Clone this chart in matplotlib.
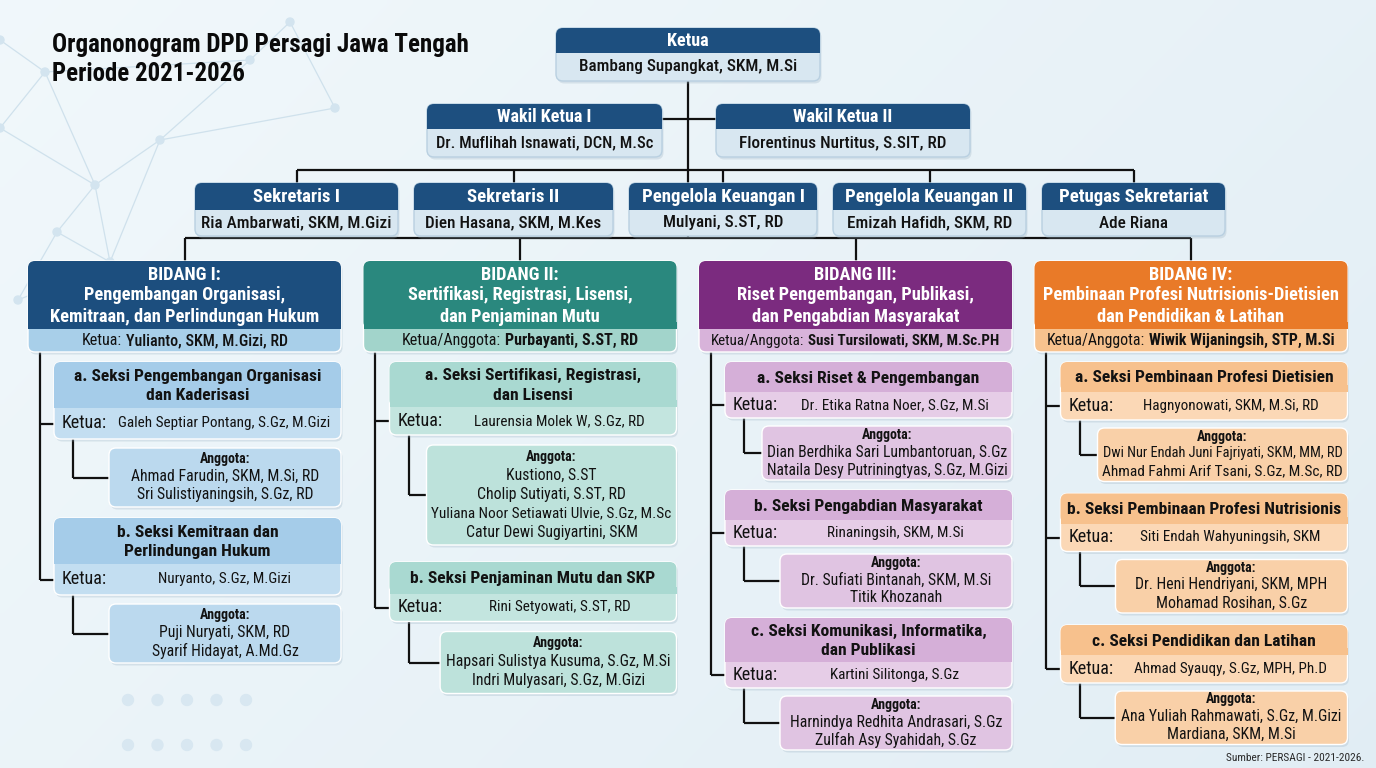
import matplotlib
matplotlib.use("Agg")
import matplotlib.pyplot as plt
from matplotlib.patches import FancyBboxPatch, Rectangle, Circle
from matplotlib import font_manager as fm
import numpy as np

# ======================= DATA =======================
title_lines = ["Organonogram DPD Persagi Jawa Tengah", "Periode 2021-2026"]
source_note = "Sumber: PERSAGI - 2021-2026."

ketua_role = "Ketua"
ketua_name = "Bambang Supangkat, SKM, M.Si"

wakil_roles = ["Wakil Ketua I", "Wakil Ketua II"]
wakil_names = ["Dr. Muflihah Isnawati, DCN, M.Sc", "Florentinus Nurtitus, S.SIT, RD"]

staff_roles = ["Sekretaris I", "Sekretaris II", "Pengelola Keuangan I",
               "Pengelola Keuangan II", "Petugas Sekretariat"]
staff_names = ["Ria Ambarwati, SKM, M.Gizi", "Dien Hasana, SKM, M.Kes", "Mulyani, S.ST, RD",
               "Emizah Hafidh, SKM, RD", "Ade Riana"]

bidang_codes = ["BIDANG I:", "BIDANG II:", "BIDANG III:", "BIDANG IV:"]
bidang_titles = [["Pengembangan Organisasi,", "Kemitraan, dan Perlindungan Hukum"],
                 ["Sertifikasi, Registrasi, Lisensi,", "dan Penjaminan Mutu"],
                 ["Riset Pengembangan, Publikasi,", "dan Pengabdian Masyarakat"],
                 ["Pembinaan Profesi Nutrisionis-Dietisien", "dan Pendidikan & Latihan"]]
bidang_head_labels = ["Ketua:", "Ketua/Anggota:", "Ketua/Anggota:", "Ketua/Anggota:"]
bidang_heads = ["Yulianto, SKM, M.Gizi, RD", "Purbayanti, S.ST, RD",
                "Susi Tursilowati, SKM, M.Sc.PH", "Wiwik Wijaningsih, STP, M.Si"]

# Bidang I
b1_seksi = [["a. Seksi Pengembangan Organisasi", "dan Kaderisasi"],
            ["b. Seksi Kemitraan dan", "Perlindungan Hukum"]]
b1_ketua = ["Galeh Septiar Pontang, S.Gz, M.Gizi", "Nuryanto, S.Gz, M.Gizi"]
b1_anggota = [["Ahmad Farudin, SKM, M.Si, RD", "Sri Sulistiyaningsih, S.Gz, RD"],
              ["Puji Nuryati, SKM, RD", "Syarif Hidayat, A.Md.Gz"]]
# Bidang II
b2_seksi = [["a. Seksi Sertifikasi, Registrasi,", "dan Lisensi"],
            ["b. Seksi Penjaminan Mutu dan SKP"]]
b2_ketua = ["Laurensia Molek W, S.Gz, RD", "Rini Setyowati, S.ST, RD"]
b2_anggota = [["Kustiono, S.ST", "Cholip Sutiyati, S.ST, RD",
               "Yuliana Noor Setiawati Ulvie, S.Gz, M.Sc", "Catur Dewi Sugiyartini, SKM"],
              ["Hapsari Sulistya Kusuma, S.Gz, M.Si", "Indri Mulyasari, S.Gz, M.Gizi"]]
# Bidang III
b3_seksi = [["a. Seksi Riset & Pengembangan"],
            ["b. Seksi Pengabdian Masyarakat"],
            ["c. Seksi Komunikasi, Informatika,", "dan Publikasi"]]
b3_ketua = ["Dr. Etika Ratna Noer, S.Gz, M.Si", "Rinaningsih, SKM, M.Si", "Kartini Silitonga, S.Gz"]
b3_anggota = [["Dian Berdhika Sari Lumbantoruan, S.Gz", "Nataila Desy Putriningtyas, S.Gz, M.Gizi"],
              ["Dr. Sufiati Bintanah, SKM, M.Si", "Titik Khozanah"],
              ["Harnindya Redhita Andrasari, S.Gz", "Zulfah Asy Syahidah, S.Gz"]]
# Bidang IV
b4_seksi = [["a. Seksi Pembinaan Profesi Dietisien"],
            ["b. Seksi Pembinaan Profesi Nutrisionis"],
            ["c. Seksi Pendidikan dan Latihan"]]
b4_ketua = ["Hagnyonowati, SKM, M.Si, RD", "Siti Endah Wahyuningsih, SKM", "Ahmad Syauqy, S.Gz, MPH, Ph.D"]
b4_anggota = [["Dwi Nur Endah Juni Fajriyati, SKM, MM, RD", "Ahmad Fahmi Arif Tsani, S.Gz, M.Sc, RD"],
              ["Dr. Heni Hendriyani, SKM, MPH", "Mohamad Rosihan, S.Gz"],
              ["Ana Yuliah Rahmawati, S.Gz, M.Gizi", "Mardiana, SKM, M.Si"]]

seksi_all = [b1_seksi, b2_seksi, b3_seksi, b4_seksi]
ketua_all = [b1_ketua, b2_ketua, b3_ketua, b4_ketua]
anggota_all = [b1_anggota, b2_anggota, b3_anggota, b4_anggota]

# ======================= STYLE / LAYOUT =======================
NAVY = "#1d4f7f"
TOP_BODY = "#d8e7f1"
HEAD_C = ["#1c4e7e", "#2a887e", "#7b2b7f", "#e97a28"]
FOOT_C = ["#a8cfe9", "#a2d4cb", "#d8b3da", "#f7c28e"]
SHEAD_C = ["#a5cce9", "#a9d9d1", "#d5afd8", "#f7c18d"]
SBODY_C = ["#c3def1", "#c3e5df", "#e6cde7", "#fbd8b6"]
ANGG_C = ["#bbd9ee", "#bde2db", "#e0c4e2", "#f9d0a8"]
TXT = "#121212"
LINE = "#111111"

W, H = 1376, 768
fig = plt.figure(figsize=(W / 100, H / 100), dpi=100)
ax = fig.add_axes([0, 0, 1, 1])
renderer = fig.canvas.get_renderer()

avail = {f.name for f in fm.fontManager.ttflist}
FONT = next(c for c in ["Roboto Condensed", "Liberation Sans Narrow", "Open Sans Condensed",
                        "Roboto", "Liberation Sans", "DejaVu Sans"] if c in avail)
plt.rcParams["font.family"] = [FONT, "DejaVu Sans"]

# background gradient
gx = np.linspace(0, 1, 200)[None, :]
gy = np.linspace(0, 1, 120)[:, None]
c0 = np.array([0.945, 0.972, 0.985])
c1 = np.array([0.885, 0.932, 0.960])
t = np.clip(0.65 * gx + 0.35 * gy, 0, 1)[..., None]
bg = c0 * (1 - t) + c1 * t
ax.imshow(bg, extent=[0, W, H, 0], aspect="auto", zorder=0, interpolation="bilinear")

# faint decorative network (top-left) and dot grid (bottom-left)
net_nodes = np.array([[45, 72], [0, 128], [95, 185], [57, 232], [110, 262], [18, 300],
                      [290, 22], [335, 108], [250, 60], [160, 140], [0, 40]])
net_edges = [(0, 1), (0, 2), (1, 2), (2, 3), (3, 4), (2, 4), (3, 5), (4, 5), (0, 10),
             (6, 7), (6, 8), (8, 9), (9, 2), (8, 0), (7, 9), (9, 4)]
for a, b in net_edges:
    ax.plot(net_nodes[[a, b], 0], net_nodes[[a, b], 1], color="#cfe1ec", lw=0.9, zorder=0.5)
for nx_, ny_ in net_nodes:
    ax.add_patch(Circle((nx_, ny_), 4, color="#d3e4ef", zorder=0.6))
for gxp in np.arange(128, 275, 29.5):
    for gyp in (700, 745):
        ax.add_patch(Circle((gxp, gyp), 5.5, color="#d8e7f1", zorder=0.6))

ax.set_xlim(0, W)
ax.set_ylim(H, 0)
ax.axis("off")


def txt(x, y, s, size, weight="normal", color=TXT, ha="center", maxw=None, z=6):
    tt = ax.text(x, y, s, fontsize=size, fontweight=weight, color=color, ha=ha, va="center", zorder=z)
    if maxw is not None:
        w = tt.get_window_extent(renderer).width
        if w > maxw:
            tt.set_fontsize(size * maxw / w)
    return tt


def width_of(tt):
    return tt.get_window_extent(renderer).width


def segs(cx, cy, parts, maxw=None, gap=4):
    texts = [ax.text(0, cy, s, fontsize=sz, fontweight=wt, color=c, ha="left", va="center", zorder=6)
             for s, sz, wt, c in parts]
    widths = [width_of(q) for q in texts]
    total = sum(widths) + gap * (len(texts) - 1)
    if maxw is not None and total > maxw:
        sc = maxw / total
        for q in texts:
            q.set_fontsize(q.get_fontsize() * sc)
        widths = [w * sc for w in widths]
        gap *= sc
        total = maxw
    x = cx - total / 2
    for q, w in zip(texts, widths):
        q.set_x(x)
        x += w + gap


def rbox(x0, y0, x1, y1, fc, r=7, ec="none", lw=0.0, z=2, alpha=1.0):
    ax.add_patch(FancyBboxPatch((x0, y0), x1 - x0, y1 - y0,
                                boxstyle=f"round,pad=0,rounding_size={r}",
                                fc=fc, ec=ec, lw=lw, zorder=z, alpha=alpha))


def two_tone(x0, y0, split, x1, y1, top_c, bot_c, r=7, edge="#ffffff"):
    rbox(x0 + 1.5, y0 + 2.5, x1 + 1.5, y1 + 2.5, "#9db4c4", r, z=1.8, alpha=0.30)   # soft shadow
    rbox(x0, y0, x1, y1, bot_c, r, ec=edge, lw=1.0, z=2)
    rbox(x0, y0, x1, split, top_c, r, z=2.1)
    ax.add_patch(Rectangle((x0, split - r), x1 - x0, r, fc=top_c, ec="none", zorder=2.1))


def line(xs, ys, z=1.5):
    ax.plot(xs, ys, color=LINE, lw=1.6, zorder=z, solid_capstyle="butt")


# ---------------- title ----------------
txt(52, 45, title_lines[0], 20, "bold", "#0a0a0a", ha="left", maxw=416)
txt(52, 74, title_lines[1], 20, "bold", "#0a0a0a", ha="left", maxw=192)
txt(1364, 758, source_note, 8.2, color="#2a2a2a", ha="right")

# ---------------- top level ----------------
KET = (556, 28, 53, 820, 81)
two_tone(KET[0], KET[1], KET[2], KET[3], KET[4], NAVY, TOP_BODY, edge="#b9d0e1")
kcx = (KET[0] + KET[3]) / 2
txt(kcx, (KET[1] + KET[2]) / 2 + 1, ketua_role, 13, "bold", "white")
txt(kcx, (KET[2] + KET[4]) / 2, ketua_name, 12.3, "medium", maxw=KET[3] - KET[0] - 16)

WAK_X = [(427, 662), (716, 970)]
WAK_Y = (104, 129, 157)
for (x0, x1), role, name in zip(WAK_X, wakil_roles, wakil_names):
    two_tone(x0, WAK_Y[0], WAK_Y[1], x1, WAK_Y[2], NAVY, TOP_BODY, edge="#b9d0e1")
    txt((x0 + x1) / 2, (WAK_Y[0] + WAK_Y[1]) / 2 + 1, role, 13, "bold", "white", maxw=x1 - x0 - 16)
    txt((x0 + x1) / 2, (WAK_Y[1] + WAK_Y[2]) / 2, name, 12.3, "medium", maxw=x1 - x0 - 16)

ROW3_X0, ROW3_GAP = 195, 16
ROW3_W = [203, 199, 188, 193, 183]
ROW3_Y = (183, 210, 236)
row3_centers = []
x0 = ROW3_X0
for w, role, name in zip(ROW3_W, staff_roles, staff_names):
    x1 = x0 + w
    two_tone(x0, ROW3_Y[0], ROW3_Y[1], x1, ROW3_Y[2], NAVY, TOP_BODY, edge="#b9d0e1")
    txt((x0 + x1) / 2, (ROW3_Y[0] + ROW3_Y[1]) / 2 + 1, role, 13.5, "bold", "white", maxw=w - 12)
    txt((x0 + x1) / 2, (ROW3_Y[1] + ROW3_Y[2]) / 2, name, 12.3, "medium", maxw=w - 12)
    row3_centers.append((x0 + x1) / 2)
    x0 = x1 + ROW3_GAP

# ---------------- bidang ----------------
BID_X0, BID_STEP, BID_W = 28, 335.5, 313
BID_Y = (261, 329, 352)
BUS3_Y, BUSB_Y = 170, 238
bid_centers = [BID_X0 + i * BID_STEP + BID_W / 2 for i in range(4)]

# main connectors
line([kcx, kcx], [KET[4], BUSB_Y])
line([WAK_X[0][1], WAK_X[1][0]], [(WAK_Y[0] + WAK_Y[1]) / 2 + 2] * 2)
line([row3_centers[0], row3_centers[-1]], [BUS3_Y, BUS3_Y])
for c in row3_centers:
    line([c, c], [BUS3_Y, ROW3_Y[0]])
line([bid_centers[0], bid_centers[-1]], [BUSB_Y, BUSB_Y])
for c in bid_centers:
    line([c, c], [BUSB_Y, BID_Y[0]])

# per-column spacing: header pad / line height, ketua row, gaps, anggota offsets
PARAMS = [dict(pad=14, lh=16, ketua=31, gap=9, a_lab=11, a_first=28, a_lh=19, a_bot=12, sgap=11),
          dict(pad=18, lh=13.5, ketua=28, gap=10, a_lab=12, a_first=30, a_lh=19, a_bot=13, sgap=17),
          dict(pad=16, lh=14, ketua=26, gap=8, a_lab=9, a_first=26, a_lh=18, a_bot=10, sgap=10),
          dict(pad=16, lh=14, ketua=28, gap=8, a_lab=8.5, a_first=25, a_lh=18.5, a_bot=10, sgap=12)]

for i in range(4):
    L = BID_X0 + i * BID_STEP
    R = L + BID_W
    cx = (L + R) / 2
    two_tone(L, BID_Y[0], BID_Y[1], R, BID_Y[2], HEAD_C[i], FOOT_C[i], edge="#ffffff")
    hl = [bidang_codes[i]] + bidang_titles[i]
    for j, s in enumerate(hl):
        txt(cx, 274.5 + 21 * j, s, 13.2, "bold", "white", maxw=BID_W - 12)
    segs(cx, (BID_Y[1] + BID_Y[2]) / 2, [(bidang_head_labels[i], 11.5, "normal", TXT),
                                        (bidang_heads[i], 11.5, "bold" if i > 0 else "medium", TXT)],
         maxw=BID_W - 24)

    p = PARAMS[i]
    trunk_x, sub_x, sL = L + 11.5, L + 45, L + 26
    y = 362
    last_ky = None
    for titles, kname, members in zip(seksi_all[i], ketua_all[i], anggota_all[i]):
        nT = len(titles)
        hh = p["pad"] + p["lh"] * nT
        split = y + hh
        bottom = split + p["ketua"]
        two_tone(sL, y, split, R, bottom, SHEAD_C[i], SBODY_C[i])
        scx = (sL + R) / 2
        for j, s in enumerate(titles):
            txt(scx, y + hh / 2 + (j - (nT - 1) / 2) * 19.5 + 1, s, 12.6, "bold", maxw=R - sL - 12)
        ky = (split + bottom) / 2
        lab = txt(sL + 8, ky, "Ketua:", 13, ha="left")
        lab_end = sL + 8 + width_of(lab)
        txt((lab_end + R) / 2, ky, kname, 10.9, maxw=R - lab_end - 12)
        line([trunk_x, sL], [ky, ky])
        last_ky = ky

        # anggota box
        at = bottom + p["gap"]
        nA = len(members)
        ah = p["a_first"] + (nA - 1) * p["a_lh"] + p["a_bot"]
        ab = at + ah
        probe = [ax.text(0, 0, m, fontsize=11.3) for m in members]
        mw = max(width_of(q) for q in probe)
        for q in probe:
            q.remove()
        aw = min(max(232, mw + 12), R - sub_x - 18)
        aL = R - aw
        rbox(aL + 1.5, at + 2.5, R + 1.5, ab + 2.5, "#9db4c4", 7, z=1.8, alpha=0.30)
        rbox(aL, at, R, ab, ANGG_C[i], 7, ec="#ffffff", lw=1.0, z=2)
        acx = (aL + R) / 2
        txt(acx, at + p["a_lab"], "Anggota:", 10, "bold")
        for j, m in enumerate(members):
            txt(acx, at + p["a_first"] + j * p["a_lh"], m, 11.3, maxw=aw - 8)
        amid = (at + ab) / 2
        line([sub_x, sub_x], [bottom, amid])
        line([sub_x, aL], [amid, amid])
        y = ab + p["sgap"]
    line([trunk_x, trunk_x], [BID_Y[2], last_ky])

fig.savefig("out.png", dpi=100)
